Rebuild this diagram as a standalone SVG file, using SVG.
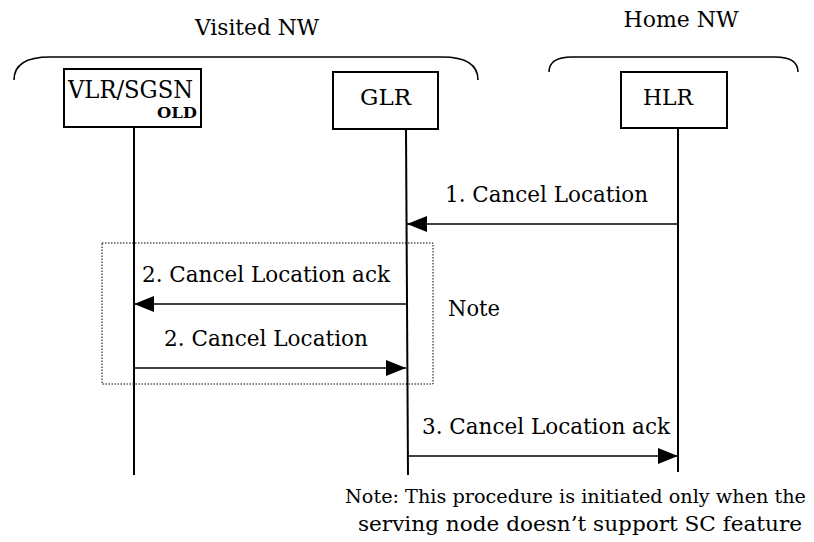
<svg xmlns="http://www.w3.org/2000/svg" width="814" height="542" viewBox="0 0 814 542">
<defs>
<style>
text{font-family:"DejaVu Serif","Liberation Serif",serif;fill:#000;}
.lbl{font-size:21.5px;}
.box{fill:#fff;stroke:#000;stroke-width:2;}
.life{stroke:#000;stroke-width:2;fill:none;}
.msg{stroke:#000;stroke-width:1.6;fill:none;marker-end:url(#ah);}
.brace{stroke:#000;stroke-width:1.6;fill:none;}
</style>
<marker id="ah" markerUnits="userSpaceOnUse" markerWidth="22" markerHeight="18" refX="20" refY="8" orient="auto">
<path d="M0,0 L20,8 L0,16 Z" fill="#000"/>
</marker>
</defs>
<rect width="814" height="542" fill="#fff"/>
<g id="groups">
<text x="257" y="35" font-size="22" text-anchor="middle" textLength="124" lengthAdjust="spacingAndGlyphs">Visited NW</text>
<path class="brace" d="M14,80 C14,64 26,57 50,57 H442 C466,57 478,64 478,80"/>
<text x="681" y="27" font-size="22" text-anchor="middle" textLength="115" lengthAdjust="spacingAndGlyphs">Home NW</text>
<path class="brace" d="M549,72 C549,62 556,57 572,57 H775 C791,57 798,62 798,72"/>
</g>
<g id="lifelines">
<line class="life" x1="134" y1="127" x2="134" y2="475"/>
<line class="life" x1="406" y1="129" x2="408" y2="475"/>
<line class="life" x1="678" y1="128" x2="678" y2="472"/>
</g>
<g id="vlr">
<rect class="box" x="64" y="69" width="137" height="58"/>
<text x="68" y="98" font-size="24" textLength="125" lengthAdjust="spacingAndGlyphs">VLR/SGSN</text>
<text x="197" y="118" font-size="14" font-weight="bold" text-anchor="end" textLength="40" lengthAdjust="spacingAndGlyphs">OLD</text>
</g>
<g id="glr">
<rect class="box" x="333" y="72" width="105" height="57"/>
<text x="385.5" y="105" font-size="23" text-anchor="middle" textLength="51" lengthAdjust="spacingAndGlyphs">GLR</text>
</g>
<g id="hlr">
<rect class="box" x="621" y="72" width="106" height="56"/>
<text x="668" y="105" font-size="23" text-anchor="middle" textLength="50" lengthAdjust="spacingAndGlyphs">HLR</text>
</g>
<g id="note-box">
<rect x="102" y="243" width="331" height="141" fill="none" stroke="#000" stroke-width="1" stroke-dasharray="1.5,1.5"/>
<text class="lbl" x="448" y="316" textLength="52" lengthAdjust="spacingAndGlyphs">Note</text>
</g>
<g id="connectors">
<line class="msg" x1="678" y1="224" x2="407" y2="224"/>
<line class="msg" x1="407" y1="304" x2="134" y2="304"/>
<line class="msg" x1="134" y1="368" x2="406" y2="368"/>
<line class="msg" x1="408" y1="456" x2="678" y2="456"/>
</g>
<g id="labels">
<text class="lbl" x="445" y="202" textLength="203" lengthAdjust="spacingAndGlyphs">1. Cancel Location</text>
<text class="lbl" x="142" y="282" textLength="248" lengthAdjust="spacingAndGlyphs">2. Cancel Location ack</text>
<text class="lbl" x="164" y="346" textLength="204" lengthAdjust="spacingAndGlyphs">2. Cancel Location</text>
<text class="lbl" x="422" y="434" textLength="248" lengthAdjust="spacingAndGlyphs">3. Cancel Location ack</text>
<text x="345" y="503" font-size="19.4" textLength="461" lengthAdjust="spacingAndGlyphs">Note: This procedure is initiated only when the</text>
<text x="358" y="531" font-size="20.5" textLength="444" lengthAdjust="spacingAndGlyphs">serving node doesn’t support SC feature</text>
</g>
</svg>
